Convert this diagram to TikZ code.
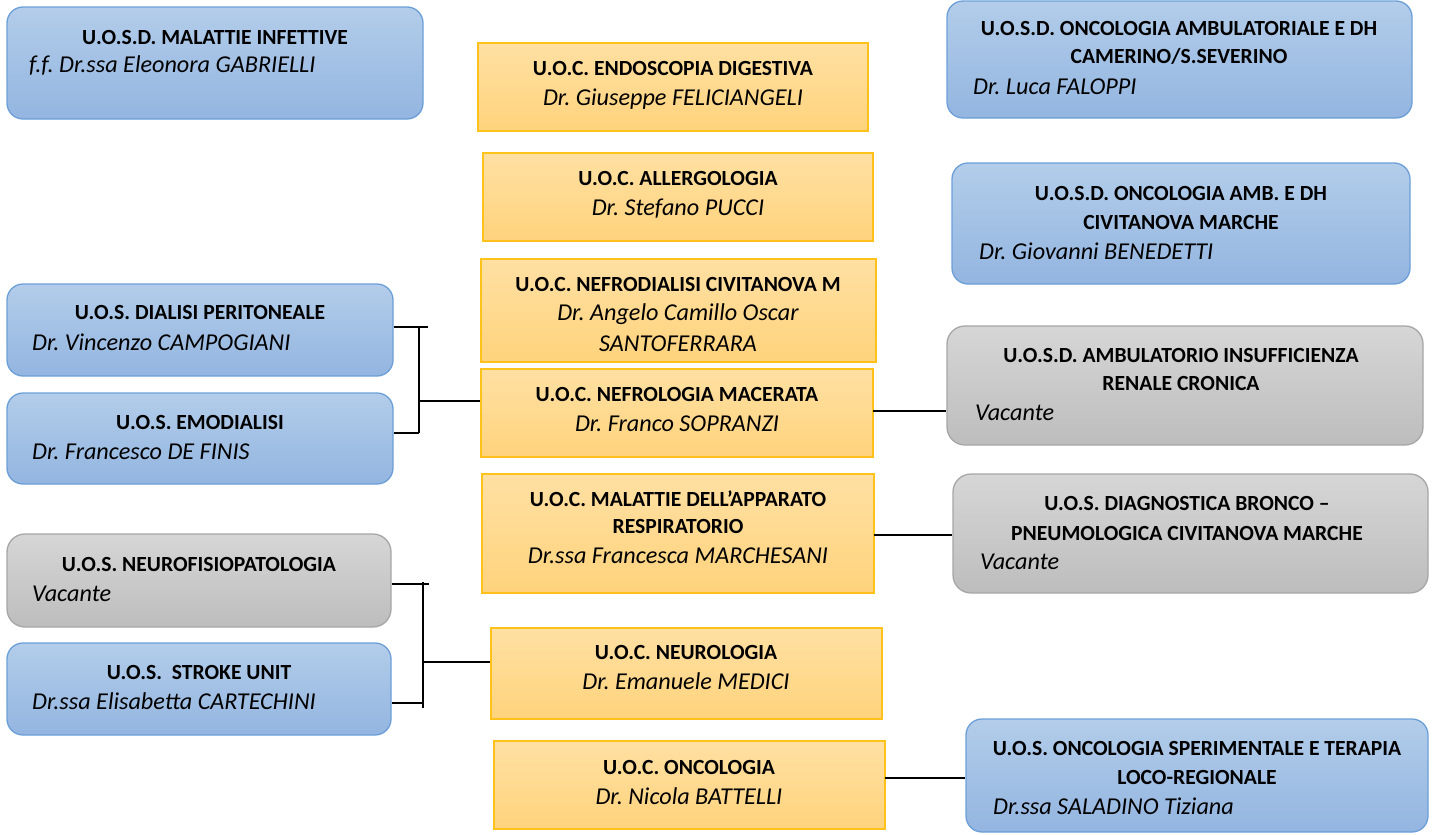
\documentclass[tikz,border=0pt]{standalone}
\usepackage{fontspec}
\setmainfont{Carlito}
\usepackage{xcolor}
\usepackage{tikz}
\usetikzlibrary{calc}
\frenchspacing
\definecolor{blutop}{HTML}{B3CDEA}
\definecolor{blubot}{HTML}{93B5E0}
\definecolor{bluline}{HTML}{6C9FD8}
\definecolor{gritop}{HTML}{D6D6D6}
\definecolor{gribot}{HTML}{BDBDBD}
\definecolor{griline}{HTML}{A6A6A6}
\definecolor{oratop}{HTML}{FFE0A3}
\definecolor{orabot}{HTML}{FFD37C}
\definecolor{oraline}{HTML}{FFC21A}
\tikzset{
  blu/.style={draw=bluline, top color=blutop, bottom color=blubot, line width=1.3pt, rounded corners=16pt, inner sep=0pt},
  gri/.style={draw=griline, top color=gritop, bottom color=gribot, line width=1.3pt, rounded corners=18pt, inner sep=0pt},
  ora/.style={draw=oraline, top color=oratop, bottom color=orabot, line width=1.6pt, inner sep=0pt},
  tit/.style={anchor=base, inner sep=0pt, font=\fontsize{21.6}{27}\selectfont\bfseries},
  nom/.style={anchor=base west, inner sep=0pt, font=\fontsize{24.2}{28}\selectfont\itshape},
  nomc/.style={anchor=base, inner sep=0pt, font=\fontsize{24.2}{28}\selectfont\itshape},
  lin/.style={draw=black, line width=1.3pt},
  linb/.style={draw=black, line width=2pt},
}
\begin{document}
\begin{tikzpicture}[x=1pt, y=-1pt]
  \useasboundingbox (0,0) rectangle (1435,835);
  % colonna sinistra
  \node[blu, minimum width=416, minimum height=112] (infett) at (215,63) {};
  \node[tit] (infett-a) at (215,44) {U.O.S.D. MALATTIE INFETTIVE};
  \node[nom] (infett-b) at (29,72) {f.f. Dr.ssa Eleonora GABRIELLI};
  \node[blu, minimum width=386, minimum height=92] (dialisi) at (200,330) {};
  \node[tit] (dialisi-a) at (200,319) {U.O.S. DIALISI PERITONEALE};
  \node[nom] (dialisi-b) at (32,350) {Dr. Vincenzo CAMPOGIANI};
  \node[blu, minimum width=386, minimum height=91] (emodia) at (200,438.5) {};
  \node[tit] (emodia-a) at (200,429) {U.O.S. EMODIALISI};
  \node[nom] (emodia-b) at (32,459) {Dr. Francesco DE FINIS};
  \node[gri, minimum width=384, minimum height=93] (neurof) at (199,580.5) {};
  \node[tit] (neurof-a) at (199,571) {U.O.S. NEUROFISIOPATOLOGIA};
  \node[nom] (neurof-b) at (32,601) {Vacante};
  \node[blu, minimum width=384, minimum height=92] (stroke) at (199,689) {};
  \node[tit] (stroke-a) at (199,679) {U.O.S.\ \ STROKE UNIT};
  \node[nom] (stroke-b) at (32,709) {Dr.ssa Elisabetta CARTECHINI};
  % colonna centrale
  \node[ora, minimum width=390, minimum height=88] (endosc) at (673,87) {};
  \node[tit] (endosc-a) at (673,75) {U.O.C. ENDOSCOPIA DIGESTIVA};
  \node[nomc] (endosc-b) at (673,105) {Dr. Giuseppe FELICIANGELI};
  \node[ora, minimum width=390, minimum height=88] (allerg) at (678,197) {};
  \node[tit] (allerg-a) at (678,185) {U.O.C. ALLERGOLOGIA};
  \node[nomc] (allerg-b) at (678,215) {Dr. Stefano PUCCI};
  \node[ora, minimum width=395, minimum height=103] (nefrod) at (678.5,310.5) {};
  \node[tit] (nefrod-a) at (678,291) {U.O.C. NEFRODIALISI CIVITANOVA M};
  \node[nomc] (nefrod-b) at (678,320) {Dr. Angelo Camillo Oscar};
  \node[nomc] (nefrod-c) at (678,351) {SANTOFERRARA};
  \node[ora, minimum width=392, minimum height=88] (nefrol) at (677,413) {};
  \node[tit] (nefrol-a) at (677,401) {U.O.C. NEFROLOGIA MACERATA};
  \node[nomc] (nefrol-b) at (677,431) {Dr. Franco SOPRANZI};
  \node[ora, minimum width=392, minimum height=119] (apparato) at (678,533.5) {};
  \node[tit] (apparato-a) at (678,506) {U.O.C. MALATTIE DELL’APPARATO};
  \node[tit] (apparato-b) at (678,533) {RESPIRATORIO};
  \node[nomc] (apparato-c) at (678,563) {Dr.ssa Francesca MARCHESANI};
  \node[ora, minimum width=391, minimum height=91] (neurol) at (686.5,673.5) {};
  \node[tit] (neurol-a) at (686,659) {U.O.C. NEUROLOGIA};
  \node[nomc] (neurol-b) at (686,689) {Dr. Emanuele MEDICI};
  \node[ora, minimum width=391, minimum height=88] (oncol) at (689.5,785) {};
  \node[tit] (oncol-a) at (689,774) {U.O.C. ONCOLOGIA};
  \node[nomc] (oncol-b) at (689,804) {Dr. Nicola BATTELLI};
  % colonna destra
  \node[blu, minimum width=465, minimum height=117] (oncamb) at (1179.5,59.5) {};
  \node[tit] (oncamb-a) at (1179,35) {U.O.S.D. ONCOLOGIA AMBULATORIALE E DH};
  \node[tit] (oncamb-b) at (1179,63) {CAMERINO/S.SEVERINO};
  \node[nom] (oncamb-c) at (973,94) {Dr. Luca FALOPPI};
  \node[blu, minimum width=458, minimum height=121] (onciv) at (1181,223.5) {};
  \node[tit] (onciv-a) at (1181,200) {U.O.S.D. ONCOLOGIA AMB. E DH};
  \node[tit] (onciv-b) at (1181,229) {CIVITANOVA MARCHE};
  \node[nom] (onciv-c) at (979,259) {Dr. Giovanni BENEDETTI};
  \node[gri, minimum width=476, minimum height=119] (insuff) at (1185,385.5) {};
  \node[tit] (insuff-a) at (1181,362) {U.O.S.D. AMBULATORIO INSUFFICIENZA};
  \node[tit] (insuff-b) at (1181,390) {RENALE CRONICA};
  \node[nom] (insuff-c) at (975,420) {Vacante};
  \node[gri, minimum width=475, minimum height=119] (diagn) at (1190.5,533.5) {};
  \node[tit] (diagn-a) at (1187,510) {U.O.S. DIAGNOSTICA BRONCO –};
  \node[tit] (diagn-b) at (1187,540) {PNEUMOLOGICA CIVITANOVA MARCHE};
  \node[nom] (diagn-c) at (980,569) {Vacante};
  \node[blu, minimum width=462, minimum height=113] (oncsper) at (1197,775.5) {};
  \node[tit] (oncsper-a) at (1197,755) {U.O.S. ONCOLOGIA SPERIMENTALE E TERAPIA};
  \node[tit] (oncsper-b) at (1197,784) {LOCO-REGIONALE};
  \node[nom] (oncsper-c) at (993,814) {Dr.ssa SALADINO Tiziana};
  % collegamenti
  \coordinate (q1) at (419,327);
  \coordinate (q2) at (419,433);
  \coordinate (q3) at (419,401);
  \draw[lin] (dialisi.east |- q1) -- ++(34,0);
  \draw[lin] (emodia.east |- q2) -- (q2);
  \draw[lin] (q1) -- (q2);
  \draw[lin] (q3) -- (q3 -| nefrol.west);
  \coordinate (q4) at (423,584);
  \coordinate (q5) at (423,708);
  \coordinate (q6) at (423,662);
  \coordinate (q7) at (423,703);
  \draw[lin] (neurof.east |- q4) -- ++(37,0);
  \draw[lin] (stroke.east |- q7) -- (q7);
  \draw[lin] ($(q4)+(0,-2)$) -- (q5);
  \draw[lin] (q6) -- (q6 -| neurol.west);
  \coordinate (r1) at (873,411);
  \coordinate (r2) at (874,535);
  \coordinate (r3) at (885,778);
  \draw[linb] (r1) -- (r1 -| insuff.west);
  \draw[lin] (r2) -- (r2 -| diagn.west);
  \draw[linb] (r3) -- (r3 -| oncsper.west);
\end{tikzpicture}
\end{document}
